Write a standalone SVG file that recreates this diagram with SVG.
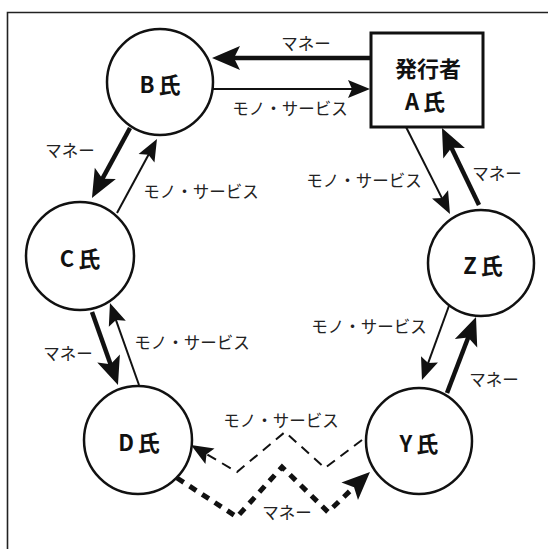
<svg xmlns="http://www.w3.org/2000/svg" width="548" height="549" viewBox="0 0 548 549">
<style>
.node{fill:#fff;stroke:#111;stroke-width:2.5}
.box{fill:#fff;stroke:#111;stroke-width:3}
.nl{font-family:"Noto Sans CJK JP","Liberation Sans",sans-serif;font-weight:bold;font-size:22px;fill:#111;text-anchor:middle;dominant-baseline:central}
.lb{font-family:"Noto Sans CJK JP","Liberation Sans",sans-serif;font-size:16.5px;fill:#222;text-anchor:middle;dominant-baseline:central}
.thick{stroke:#111;stroke-width:4.5;fill:none;marker-end:url(#ah)}
.thin{stroke:#111;stroke-width:2;fill:none;marker-end:url(#as)}
.dthin{stroke:#111;stroke-width:2;fill:none;stroke-dasharray:10 7;marker-end:url(#as)}
.dthick{stroke:#111;stroke-width:5;fill:none;stroke-dasharray:8 7;marker-end:url(#ah)}
</style>
<defs>
<marker id="ah" markerUnits="userSpaceOnUse" viewBox="-14 -14 32 28" markerWidth="32" markerHeight="28" refX="0" refY="0" orient="auto">
<path d="M16,0 L-12,-12 L-6,0 L-12,12 Z" fill="#111" stroke="none"/>
</marker>
<marker id="as" markerUnits="userSpaceOnUse" viewBox="-11 -11 26 22" markerWidth="26" markerHeight="22" refX="0" refY="0" orient="auto">
<path d="M13,0 L-9,-9 L-5,0 L-9,9 Z" fill="#111" stroke="none"/>
</marker>
</defs>
<g id="frame" stroke="#222" stroke-width="1.6" fill="none">
<path d="M7.5,549 V12.5 H548"/>
</g>
<g id="connectors">
<line class="thick" x1="371" y1="58" x2="228" y2="58"/>
<line class="thin" x1="213" y1="89" x2="357" y2="89"/>
<line class="thick" x1="130" y1="128" x2="99.6" y2="183.9"/>
<line class="thin" x1="117" y1="213" x2="150.8" y2="150.4"/>
<line class="thin" x1="406" y1="127" x2="444.1" y2="202.4"/>
<line class="thick" x1="479" y1="205" x2="448.9" y2="142.4"/>
<line class="thick" x1="92" y1="312" x2="112.6" y2="369.9"/>
<line class="thin" x1="139" y1="385" x2="114.3" y2="315.3"/>
<line class="thin" x1="450" y1="303" x2="426.4" y2="367.8"/>
<line class="thick" x1="447" y1="393" x2="470.3" y2="332"/>
<polyline class="dthin" points="362,440 325,468 285,432 237,472 202.2,451.6"/>
<polyline class="dthick" points="177,478 237,517 282,467 328,512 358.4,483"/>
</g>
<g id="labels">
<text class="lb" x="306" y="43">マネー</text>
<text class="lb" x="290" y="108">モノ・サービス</text>
<text class="lb" x="70" y="150">マネー</text>
<text class="lb" x="201" y="191">モノ・サービス</text>
<text class="lb" x="364" y="180">モノ・サービス</text>
<text class="lb" x="497" y="173">マネー</text>
<text class="lb" x="68" y="353">マネー</text>
<text class="lb" x="192" y="342">モノ・サービス</text>
<text class="lb" x="369" y="326">モノ・サービス</text>
<text class="lb" x="494" y="379">マネー</text>
<text class="lb" x="281" y="420">モノ・サービス</text>
<text class="lb" x="287" y="512">マネー</text>
</g>
<g id="nodeA">
<rect class="box" x="371" y="33" width="112" height="94"/>
<text class="nl" x="428" y="67" font-size="24">発行者</text>
<text class="nl" x="427" y="100" letter-spacing="4">A氏</text>
</g>
<g id="nodeB">
<circle class="node" cx="160" cy="82" r="53"/>
<text class="nl" x="162" y="83" letter-spacing="4">B氏</text>
</g>
<g id="nodeC">
<circle class="node" cx="80" cy="256" r="54"/>
<text class="nl" x="82" y="257" letter-spacing="4">C氏</text>
</g>
<g id="nodeZ">
<circle class="node" cx="481" cy="263" r="53"/>
<text class="nl" x="485" y="264" letter-spacing="4">Z氏</text>
</g>
<g id="nodeD">
<circle class="node" cx="138" cy="440" r="54"/>
<text class="nl" x="141" y="441" letter-spacing="4">D氏</text>
</g>
<g id="nodeY">
<circle class="node" cx="419" cy="441" r="53"/>
<text class="nl" x="421" y="442" letter-spacing="4">Y氏</text>
</g>
</svg>
